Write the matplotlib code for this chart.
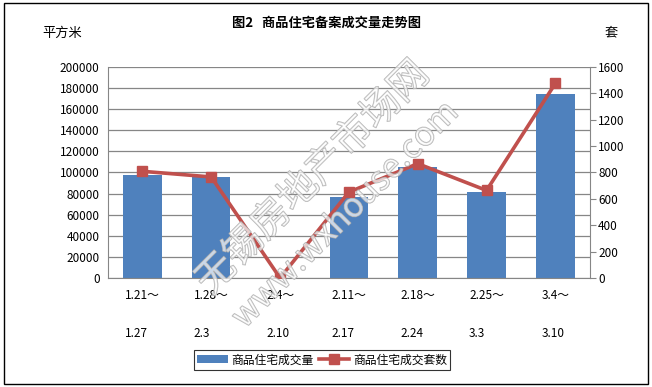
import matplotlib
matplotlib.use("Agg")
import matplotlib.pyplot as plt
import matplotlib.patheffects as pe
from matplotlib.patches import Rectangle
import numpy as np

plt.rcParams['font.family'] = ['Noto Sans CJK SC', 'DejaVu Sans']

weeks = ['1.21～\n\n1.27', '1.28～\n\n2.3', '2.4～\n\n2.10', '2.11～\n\n2.17',
         '2.18～\n\n2.24', '2.25～\n\n3.3', '3.4～\n\n3.10']
area = [97400, 95500, 0, 76800, 104800, 81200, 174600]
units = [809, 766, 0, 651, 867, 664, 1476]

bar_color = '#4F81BD'
line_color = '#C0504D'
grid_color = '#868686'

fig = plt.figure(figsize=(6.52, 3.87), dpi=100)
ax1 = fig.add_axes([0.1656, 0.2817, 0.739, 0.5452])
ax2 = ax1.twinx()

x = np.arange(len(weeks))
ax1.bar(x, area, width=0.56, color=bar_color, zorder=2, label='商品住宅成交量')
ax2.plot(x, units, color=line_color, lw=2.6, marker='s', ms=7.5,
         zorder=3, label='商品住宅成交套数')

ax1.set_xlim(-0.5, len(weeks) - 0.5)
ax1.set_ylim(0, 200000)
ax1.set_yticks(range(0, 200001, 20000))
ax2.set_ylim(0, 1600)
ax2.set_yticks(range(0, 1601, 200))
ax1.yaxis.grid(True, color=grid_color, lw=0.9, zorder=0)
ax1.set_axisbelow(True)

ax1.set_xticks(x)
ax1.set_xticklabels(weeks, fontsize=8.5, linespacing=1.6, multialignment='left')
ax1.tick_params(axis='x', length=0, pad=8)
ax1.tick_params(axis='y', labelsize=8.5, length=0, pad=6)
ax2.tick_params(axis='y', labelsize=8.5, length=4, direction='out',
                color=grid_color, pad=2)

for a in (ax1, ax2):
    for s in a.spines.values():
        s.set_visible(False)
ax1.spines['bottom'].set_visible(True)
ax1.spines['bottom'].set_color(grid_color)
ax1.spines['left'].set_visible(True)
ax1.spines['left'].set_color(grid_color)
ax2.spines['right'].set_visible(True)
ax2.spines['right'].set_color(grid_color)

fig.text(0.5, 0.94, '图2   商品住宅备案成交量走势图', ha='center', va='center',
         fontsize=9.5, fontweight='bold')
fig.text(0.095, 0.915, '平方米', ha='center', va='center', fontsize=9.5)
fig.text(0.937, 0.915, '套', ha='center', va='center', fontsize=9.5)

# watermark (outlined, semi-transparent)
wm = dict(rotation=45, ha='center', va='center', color=(1, 1, 1, 0.45),
          path_effects=[pe.withStroke(linewidth=0.9, foreground=(0.68, 0.68, 0.68, 0.9))],
          zorder=5)
fig.text(0.48, 0.54, '无锡房地产市场网', fontsize=28, **wm)
fig.text(0.53, 0.445, 'www.wxhouse.com', fontsize=24, **wm)

h1, l1 = ax1.get_legend_handles_labels()
h2, l2 = ax2.get_legend_handles_labels()
leg = fig.legend(h1 + h2, l1 + l2, loc='center', bbox_to_anchor=(0.494, 0.07),
                 ncol=2, fontsize=8.5, frameon=True, fancybox=False,
                 handlelength=2.6, columnspacing=0.4, handletextpad=0.3,
                 borderpad=0.3, edgecolor='black')
leg.get_frame().set_linewidth(0.8)

fig.patches.append(Rectangle((0.006, 0.008), 0.988, 0.984, transform=fig.transFigure,
                             fill=False, edgecolor='black', lw=1.0))

fig.savefig('out.png', dpi=100)
